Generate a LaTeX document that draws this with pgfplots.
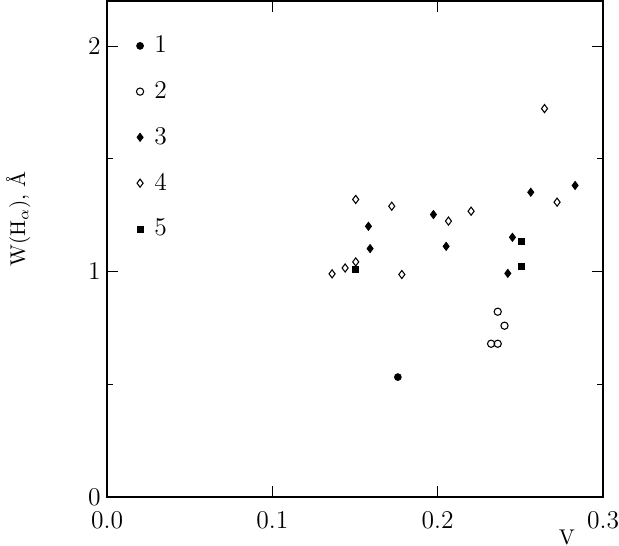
\documentclass[border=0pt]{standalone}
\usepackage{pgfplots}
\pgfplotsset{compat=1.18}
\begin{document}
\begin{tikzpicture}
\begin{axis}[
  scale only axis,
  width=233pt, height=233pt,
  xmin=0, xmax=0.3, ymin=0, ymax=2.2,
  xtick={0,0.1,0.2,0.3},
  ytick={0,1,2},
  minor ytick={0.5,1.5},
  ticklabel style={font=\large},
  xticklabel style={yshift=-3.5pt,/pgf/number format/.cd,fixed,fixed zerofill,precision=1},
  yticklabel style={xshift=0.5pt,/pgf/number format/.cd,fixed,precision=0},
  major tick length=5pt,
  minor tick length=2.7pt,
  tick style={black, line width=0.5pt},
  tick align=inside,
  axis line style={line width=0.6pt},
  xlabel={V},
  ylabel={W(H$_\alpha$), \AA},
  xlabel style={at={(axis description cs:0.927,-0.081)}, anchor=center},
  ylabel style={at={(axis description cs:-0.179,0.561)}, anchor=center},
  legend style={at={(axis description cs:0.0455,0.948)}, anchor=north west, draw=none, fill=none, row sep=8pt, font=\large,
    /tikz/every odd column/.append style={column sep=3pt}},
  legend cell align=left,
]
\addplot[only marks, mark=*, mark size=1.6pt, mark options={fill=black}] coordinates {
(0.1759,0.532)
};
\addlegendentry{1}
\addplot[only marks, mark=o, mark size=1.7pt, mark options={line width=0.5pt}] coordinates {
(0.2363,0.822) (0.2404,0.760) (0.2323,0.680) (0.2363,0.680)
};
\addlegendentry{2}
\addplot[only marks, mark=diamond*, mark size=1.9pt, mark options={fill=black}] coordinates {
(0.1581,1.201) (0.1591,1.102) (0.1974,1.253) (0.2051,1.112)
(0.2452,1.152) (0.2424,0.992) (0.2563,1.352) (0.2831,1.382)
};
\addlegendentry{3}
\addplot[only marks, mark=diamond, mark size=1.9pt, mark options={line width=0.5pt}] coordinates {
(0.1361,0.990) (0.1440,1.016) (0.1504,1.043) (0.1504,1.320)
(0.1722,1.290) (0.1783,0.987) (0.2065,1.224) (0.2202,1.268)
(0.2646,1.723) (0.2722,1.308)
};
\addlegendentry{4}
\addplot[only marks, mark=square*, mark size=1.4pt, mark options={fill=black}] coordinates {
(0.1500,1.009) (0.2505,1.133) (0.2505,1.022)
};
\addlegendentry{5}
\end{axis}
\pgfresetboundingbox
\useasboundingbox ([shift={(-50.3pt,-23pt)}]current axis.south west) rectangle ([shift={(7.5pt,0.5pt)}]current axis.north east);
\end{tikzpicture}
\end{document}
